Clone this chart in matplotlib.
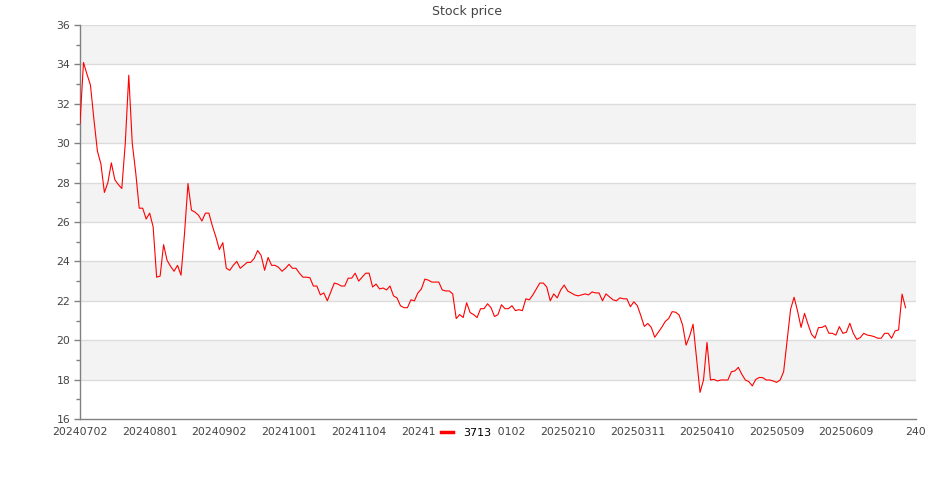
import numpy as np
import matplotlib
matplotlib.use("Agg")
import matplotlib.pyplot as plt
from matplotlib.lines import Line2D
from matplotlib.ticker import MultipleLocator

title = "Stock price"
series_name = "3713"
prices = [
    31.0, 34.1, 33.5, 32.95, 31.2, 29.6, 28.95, 27.5, 28.0, 29.0,
    28.15, 27.9, 27.7, 30.0, 33.45, 30.0, 28.5, 26.7, 26.7, 26.15,
    26.45, 25.75, 23.2, 23.25, 24.85, 24.05, 23.75, 23.5, 23.8, 23.3,
    25.4, 27.95, 26.6, 26.5, 26.35, 26.05, 26.45, 26.45, 25.8, 25.25,
    24.6, 24.95, 23.65, 23.55, 23.8, 24.0, 23.65, 23.8, 23.95, 23.95,
    24.15, 24.55, 24.3, 23.55, 24.2, 23.8, 23.8, 23.7, 23.5, 23.65,
    23.85, 23.65, 23.65, 23.4, 23.2, 23.2, 23.17, 22.75, 22.75, 22.3,
    22.4, 22.0, 22.45, 22.9, 22.85, 22.75, 22.75, 23.15, 23.15, 23.4,
    23.0, 23.2, 23.4, 23.4, 22.7, 22.85, 22.6, 22.65, 22.55, 22.75,
    22.25, 22.15, 21.75, 21.65, 21.65, 22.05, 22.0, 22.4, 22.6, 23.1,
    23.05, 22.95, 22.95, 22.95, 22.55, 22.5, 22.5, 22.35, 21.1, 21.3,
    21.15, 21.9, 21.4, 21.3, 21.15, 21.6, 21.6, 21.85, 21.65, 21.2,
    21.3, 21.8, 21.6, 21.6, 21.75, 21.5, 21.55, 21.5, 22.1, 22.05,
    22.3, 22.6, 22.9, 22.9, 22.7, 22.0, 22.35, 22.15, 22.55, 22.8,
    22.5, 22.4, 22.3, 22.25, 22.3, 22.35, 22.3, 22.45, 22.4, 22.4,
    22.0, 22.35, 22.2, 22.05, 22.0, 22.15, 22.1, 22.1, 21.7, 21.95,
    21.75, 21.25, 20.7, 20.85, 20.65, 20.15, 20.4, 20.65, 20.95, 21.1,
    21.45, 21.42, 21.28, 20.77, 19.75, 20.2, 20.81, 19.1, 17.35, 17.98,
    19.89, 17.98, 18.01, 17.93, 17.98, 17.98, 17.98, 18.4, 18.44, 18.62,
    18.27, 17.98, 17.9, 17.68, 18.01, 18.11, 18.1, 17.98, 17.98, 17.93,
    17.86, 17.98, 18.4, 20.01, 21.57, 22.18, 21.48, 20.65, 21.36, 20.81,
    20.3, 20.1, 20.64, 20.65, 20.74, 20.35, 20.35, 20.26, 20.69, 20.35,
    20.4, 20.86, 20.35, 20.04, 20.13, 20.35, 20.26, 20.23, 20.18, 20.1,
    20.1, 20.35, 20.35, 20.1, 20.47, 20.52, 22.34, 21.65,
]
x_tick_labels = [
    "20240702", "20240801", "20240902", "20241001", "20241104", "20241203",
    "20250102", "20250210", "20250311", "20250410", "20250509", "20250609",
    "240",
]
tick_step = 20
y_ticks = [16, 18, 20, 22, 24, 26, 28, 30, 32, 34, 36]

plt.rcParams['font.family'] = ['DejaVu Sans']

fig = plt.figure(figsize=(9.35, 5.0), dpi=100)
ax = fig.add_axes([80 / 935, 81 / 500, 836 / 935, 394 / 500])

# alternating bands
for k in range(len(y_ticks) - 1):
    lo, hi = y_ticks[k], y_ticks[k + 1]
    if k % 2 == 1:
        ax.axhspan(lo, hi, color="#f3f3f3", lw=0, zorder=0)
for yv in y_ticks[1:]:
    ax.axhline(yv, color="#dcdcdc", lw=1.0, zorder=1)

xs = np.arange(len(prices))
ax.plot(xs, prices, color="#ff0000", lw=0.8, zorder=3)

ax.set_xlim(0, tick_step * (len(x_tick_labels) - 1))
ax.set_ylim(y_ticks[0], y_ticks[-1])
ax.set_xticks(np.arange(len(x_tick_labels)) * tick_step)
ax.set_xticklabels(x_tick_labels)
ax.set_yticks(y_ticks)
ax.yaxis.set_minor_locator(MultipleLocator(1))

for s in ["top", "right"]:
    ax.spines[s].set_visible(False)
for s in ["left", "bottom"]:
    ax.spines[s].set_color("#808080")
    ax.spines[s].set_linewidth(1.0)

ax.tick_params(axis="x", length=0, pad=6, labelsize=7.8, labelcolor="#444444")
ax.tick_params(axis="y", which="major", length=4, width=1, color="#808080",
               pad=3, labelsize=7.8, labelcolor="#444444")
ax.tick_params(axis="y", which="minor", length=3, width=1, color="#808080")

fig.text(0.5, 1 - 12 / 500, title, ha="center", va="center",
         fontsize=9, color="#444444")

handle = Line2D([0], [0], color="#ff0000", lw=2.5)
fig.legend([handle], [series_name], loc="center",
           bbox_to_anchor=(466 / 935, 1 - 433 / 500),
           frameon=True, facecolor="white", edgecolor="white", framealpha=1,
           fontsize=8, handlelength=1.15, handletextpad=0.9,
           borderpad=0.4, borderaxespad=0, fancybox=False,
           labelcolor="black")

fig.savefig("out.png", dpi=100)
